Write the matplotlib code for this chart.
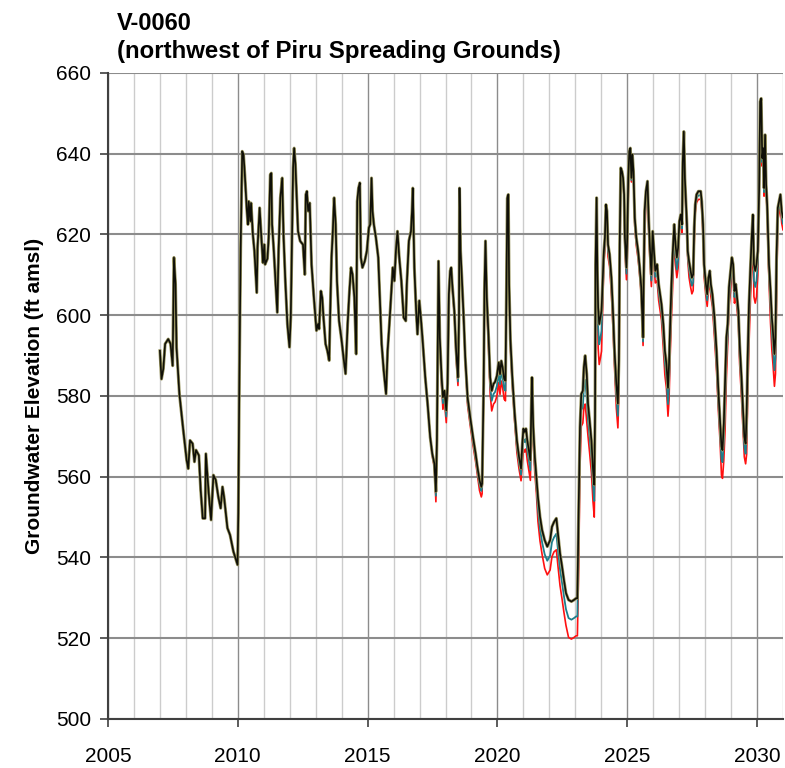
import numpy as np
import matplotlib
matplotlib.use("Agg")
import matplotlib.pyplot as plt
from matplotlib.ticker import MultipleLocator

# decimal year of each reading, black (highest) series head in ft amsl
years = [
    2007.00, 2007.06, 2007.13, 2007.20, 2007.32, 2007.41, 2007.49, 2007.54, 2007.60, 2007.64, 2007.75, 2007.90,
    2008.03, 2008.09, 2008.16, 2008.26, 2008.33, 2008.39, 2008.50, 2008.57, 2008.65, 2008.74, 2008.77, 2008.88, 2008.97,
    2009.06, 2009.15, 2009.25, 2009.34, 2009.41, 2009.47, 2009.60, 2009.70, 2009.83, 2009.99,
    2010.02, 2010.06, 2010.11, 2010.17, 2010.22, 2010.27, 2010.35, 2010.39, 2010.42, 2010.48, 2010.51, 2010.58, 2010.64, 2010.73, 2010.76, 2010.84, 2010.90, 2010.97,
    2011.02, 2011.05, 2011.14, 2011.19, 2011.25, 2011.29, 2011.32, 2011.38, 2011.46, 2011.52, 2011.57, 2011.64, 2011.71, 2011.76, 2011.83, 2011.91, 2011.99,
    2012.04, 2012.09, 2012.13, 2012.17, 2012.22, 2012.27, 2012.32, 2012.40, 2012.51, 2012.58, 2012.62, 2012.66, 2012.71, 2012.77, 2012.84, 2012.93,
    2013.03, 2013.09, 2013.13, 2013.20, 2013.25, 2013.30, 2013.38, 2013.45, 2013.52, 2013.56, 2013.61, 2013.66, 2013.71, 2013.77, 2013.82, 2013.90,
    2014.00, 2014.07, 2014.15, 2014.23, 2014.30, 2014.36, 2014.42, 2014.49, 2014.56, 2014.60, 2014.65, 2014.70, 2014.74, 2014.80, 2014.89, 2014.97,
    2015.05, 2015.10, 2015.15, 2015.19, 2015.24, 2015.32, 2015.41, 2015.47, 2015.54, 2015.62, 2015.71, 2015.77, 2015.83, 2015.90, 2015.97,
    2016.03, 2016.09, 2016.15, 2016.22, 2016.30, 2016.39, 2016.47, 2016.51, 2016.59, 2016.67, 2016.71, 2016.74, 2016.80, 2016.87, 2016.92, 2016.99,
]
heads_early = [
    591.2, 584.2, 586.7, 592.9, 594.1, 592.9, 587.5, 614.3, 607.7, 592.0, 580.5, 571.5,
    564.1, 562.0, 569.0, 568.2, 563.7, 566.6, 565.3, 556.7, 549.7, 549.7, 565.7, 555.8, 549.3,
    560.4, 559.2, 555.0, 552.2, 557.5, 555.0, 547.3, 545.6, 541.5, 538.2,
    551.0, 584.7, 616.7, 640.6, 639.8, 634.8, 625.8, 622.5, 628.2, 623.3, 627.8, 620.0, 615.9, 605.6, 616.7, 626.6, 620.0, 613.0,
    617.5, 612.6, 614.0, 619.2, 634.8, 635.2, 622.5, 616.7, 607.7, 600.7, 615.9, 629.1, 634.0, 620.0, 608.5, 597.8, 592.1,
    599.5, 620.8, 636.5, 641.4, 637.3, 629.1, 620.8, 618.4, 617.5, 610.1, 629.9, 630.7, 625.8, 627.8, 612.6, 604.4,
    596.2, 597.8, 596.6, 606.0, 604.4, 599.5, 592.9, 591.2, 588.8, 601.1, 614.3, 620.8, 629.1, 622.5, 608.5, 598.6,
    593.7, 589.6, 585.5, 597.8, 606.0, 611.8, 610.1, 604.4, 590.4, 628.2, 631.5, 632.8, 614.3, 611.8, 613.4, 615.9,
    621.7, 622.5, 634.0, 625.8, 622.5, 619.2, 614.3, 604.4, 592.9, 586.3, 580.5, 591.2, 597.0, 604.4, 611.8,
    608.5, 615.9, 620.8, 614.2, 608.5, 599.4, 598.6, 607.7, 618.4, 620.8, 625.8, 631.5, 611.8, 601.1, 595.3, 603.6,
]

# from 2017 the scenarios split: black head plus how far teal and red sit below it
years_late = [
    2017.05, 2017.12, 2017.22, 2017.31, 2017.41, 2017.49, 2017.57, 2017.63, 2017.67, 2017.71, 2017.73, 2017.78, 2017.85, 2017.90, 2017.96,
    2018.03, 2018.08, 2018.13, 2018.18, 2018.22, 2018.26, 2018.34, 2018.41, 2018.48, 2018.52, 2018.54, 2018.58, 2018.63, 2018.70, 2018.76, 2018.85, 2018.95,
    2019.06, 2019.16, 2019.23, 2019.31, 2019.38, 2019.41, 2019.47, 2019.50, 2019.54, 2019.59, 2019.66, 2019.72, 2019.78, 2019.85, 2019.91, 2019.98,
    2020.05, 2020.10, 2020.15, 2020.20, 2020.26, 2020.31, 2020.35, 2020.38, 2020.42, 2020.45, 2020.50, 2020.57, 2020.66, 2020.75, 2020.83, 2020.91, 2020.96,
    2021.00, 2021.05, 2021.10, 2021.15, 2021.21, 2021.27, 2021.31, 2021.33, 2021.38, 2021.44, 2021.50, 2021.56, 2021.64, 2021.72, 2021.82, 2021.92,
    2022.03, 2022.10, 2022.18, 2022.27, 2022.33, 2022.41, 2022.49, 2022.56, 2022.64, 2022.74, 2022.85, 2022.95,
    2023.03, 2023.08, 2023.13, 2023.18, 2023.23, 2023.29, 2023.33, 2023.38, 2023.44, 2023.49, 2023.55, 2023.62, 2023.68, 2023.73, 2023.76, 2023.78, 2023.82, 2023.85, 2023.88, 2023.92, 2023.97,
    2024.01, 2024.06, 2024.10, 2024.14, 2024.18, 2024.22, 2024.26, 2024.32, 2024.39, 2024.45, 2024.51, 2024.58, 2024.64, 2024.68, 2024.71, 2024.75, 2024.80, 2024.84, 2024.88, 2024.91, 2024.97,
    2025.00, 2025.04, 2025.08, 2025.12, 2025.16, 2025.20, 2025.24, 2025.29, 2025.35, 2025.42, 2025.48, 2025.54, 2025.61, 2025.63, 2025.67, 2025.72, 2025.78, 2025.83, 2025.88, 2025.93, 2025.98,
    2026.03, 2026.08, 2026.15, 2026.21, 2026.32, 2026.39, 2026.45, 2026.51, 2026.57, 2026.61, 2026.65, 2026.70, 2026.75, 2026.81, 2026.86, 2026.91, 2026.96,
    2027.01, 2027.06, 2027.11, 2027.14, 2027.18, 2027.22, 2027.26, 2027.30, 2027.33, 2027.38, 2027.44, 2027.49, 2027.54, 2027.58, 2027.62, 2027.67, 2027.74, 2027.83, 2027.87, 2027.92, 2027.96,
    2028.03, 2028.08, 2028.13, 2028.18, 2028.22, 2028.28, 2028.36, 2028.44, 2028.51, 2028.58, 2028.63, 2028.67, 2028.72, 2028.77, 2028.82, 2028.87, 2028.92, 2028.98,
    2029.03, 2029.08, 2029.13, 2029.18, 2029.23, 2029.28, 2029.33, 2029.40, 2029.46, 2029.51, 2029.56, 2029.60, 2029.64, 2029.69, 2029.75, 2029.80, 2029.84, 2029.88, 2029.93, 2029.98,
    2030.03, 2030.08, 2030.12, 2030.16, 2030.20, 2030.24, 2030.27, 2030.31, 2030.35, 2030.39, 2030.43, 2030.46, 2030.52, 2030.57, 2030.62, 2030.67, 2030.71, 2030.75, 2030.80, 2030.85, 2030.90, 2030.95,
    2031.00, 2031.05,
]
heads_late = [
    599.4, 593.7, 584.6, 578.1, 569.8, 565.7, 563.3, 556.3, 569.0, 599.4, 613.4, 594.5, 584.6, 579.7, 581.3,
    576.4, 583.0, 605.2, 611.0, 611.8, 607.7, 601.1, 591.2, 584.6, 599.4, 631.5, 615.9, 609.3, 599.4, 589.6, 579.7, 574.8,
    569.8, 565.7, 562.4, 559.1, 557.5, 558.3, 583.0, 606.0, 618.4, 604.4, 594.5, 584.6, 581.3, 583.0, 583.5, 585.0,
    588.3, 585.4, 588.7, 587.1, 584.2, 583.8, 607.7, 629.0, 629.9, 607.7, 594.0, 585.0, 576.0, 569.0, 565.0, 562.0, 568.2,
    571.9, 571.1, 571.9, 569.0, 566.5, 564.1, 578.9, 584.6, 572.3, 564.9, 560.0, 555.0, 550.1, 546.8, 544.3, 542.7,
    544.3, 547.6, 548.8, 549.7, 546.0, 541.1, 537.7, 534.5, 531.2, 529.5, 529.1, 529.5,
    529.9, 529.9, 552.5, 572.3, 580.5, 581.3, 587.1, 590.0, 585.5, 578.0, 574.0, 569.0, 562.0, 558.0, 575.0, 612.6, 629.1, 611.0, 601.9, 597.8, 599.5,
    601.1, 609.3, 615.9, 619.2, 627.4, 625.8, 617.5, 615.1, 609.3, 601.1, 591.2, 583.0, 578.1, 588.8, 617.5, 636.5, 635.6, 634.0, 629.9, 619.2, 611.8,
    619.2, 634.0, 640.6, 641.4, 634.0, 639.8, 635.6, 624.1, 619.2, 615.9, 611.8, 606.9, 594.5, 606.9, 625.8, 630.7, 633.2, 623.3, 615.9, 610.1, 620.8,
    615.9, 611.0, 612.6, 607.7, 602.7, 597.8, 591.2, 587.9, 582.0, 587.9, 597.0, 606.9, 615.1, 622.5, 617.5, 614.3, 616.7,
    623.3, 624.9, 622.5, 638.1, 645.5, 634.0, 628.0, 622.5, 615.9, 613.4, 611.0, 609.3, 610.1, 621.7, 627.4, 629.9, 630.7, 630.7, 628.2, 622.5, 612.6,
    607.7, 605.2, 609.3, 611.0, 607.7, 605.2, 599.5, 591.2, 581.4, 573.1, 567.4, 566.6, 573.1, 583.8, 594.5, 597.8, 606.9, 611.0,
    614.3, 612.6, 606.0, 607.7, 604.4, 601.1, 592.9, 584.7, 576.4, 569.9, 568.2, 575.6, 589.6, 602.7, 612.6, 620.0, 624.9, 612.6, 611.0, 612.6,
    615.9, 630.7, 652.9, 653.7, 638.9, 641.4, 631.5, 644.7, 632.4, 627.4, 618.4, 612.6, 606.0, 599.5, 595.3, 590.4, 594.5, 614.3, 626.6, 628.2, 629.9, 625.8,
    624.1, 624.9,
]
teal_drop = [
    0, 0, 0, 0, 0, 0, 0.5, 1, 1, 0.5, 0, 0.5, 1, 1.5, 1.5,
    1.5, 1, 0.5, 0.5, 0.5, 0.5, 0.5, 1, 1, 0.5, 0, 0.5, 0.5, 0.5, 0.5, 1, 1,
    1, 1, 1, 1, 1, 1, 1, 0.5, 0, 1, 1.5, 2, 2.5, 2.5, 2.5, 2.5,
    2.5, 2.5, 2.5, 2.5, 2.5, 2.5, 1, 0, 0, 1, 1, 1, 1, 1.5, 1.5, 1.5, 2.5,
    2.5, 2.5, 2.5, 2.5, 2.5, 2.5, 1, 1, 2, 2, 2, 3, 3, 3, 3.5, 3.5,
    3.8, 3.8, 3.8, 3.8, 4, 4, 4, 4, 4, 4.5, 4.5, 4.5,
    4.5, 4.5, 6, 5, 4, 4, 5, 6, 6, 4, 4, 4, 4, 4, 5, 3, 0.5, 1, 5, 5, 5,
    5, 3, 1.5, 1.5, 1.5, 1.5, 1.5, 1.5, 2, 2, 2, 3, 3, 4, 5, 0.5, 0.5, 0.5, 0.5, 1.5, 1.5,
    2.5, 2.5, 0.5, 0.5, 0.5, 0.5, 0.5, 1, 1, 1, 1, 1, 1, 3, 4, 1, 0.5, 1.5, 1.5, 1.5, 1.5,
    1.5, 1.5, 2, 2, 2, 3, 3, 3, 4, 5, 4, 4, 4, 2, 3, 3, 3,
    1, 1, 1, 0.5, 0.5, 0.5, 1, 1, 1, 2, 2, 2, 2, 2, 1, 1, 1, 1, 1, 1.5, 1.5,
    1.5, 1.5, 1.5, 1.5, 1.5, 1.5, 3, 3, 3, 3, 3, 3, 4, 6, 5, 3, 3, 3,
    1.5, 1.5, 1.5, 1.5, 1.5, 1.5, 2.5, 2.5, 2.5, 2.5, 2.5, 5, 5, 5, 4, 4, 2, 4, 4, 4,
    3, 1, 1, 1, 1, 1, 1, 1, 1, 1, 2, 2, 4, 4, 4, 4, 5, 6, 1.5, 1.5, 1.5, 1.5,
    1.5, 1.5,
]
red_drop = [
    0, 0, 0, 0, 0, 0.5, 1, 2.5, 2, 1, 0, 1, 2, 3, 3,
    3, 2, 1, 1, 1, 1, 1, 2, 2, 1, 0, 1, 1, 1, 1, 2, 2,
    2, 2, 2, 2.5, 2.5, 2.5, 2, 1, 0.5, 2, 3, 4, 5, 5, 5, 5,
    5, 5, 5, 5, 5, 5, 2, 0.5, 0.5, 2, 2, 2, 2, 3, 3, 3, 5,
    5, 5, 5, 5, 5, 5, 2, 2, 4, 4, 4, 6, 6, 6, 7, 7,
    7.4, 7.4, 7.4, 7.8, 8, 8, 8, 8, 8, 9.3, 9.3, 9.3,
    9.3, 9.3, 15, 10, 8, 8, 10, 12, 12, 8, 8, 8, 8, 8, 10, 6, 1, 2, 10, 10, 10,
    10, 6, 3, 3, 3, 3, 3, 3, 4, 4, 4, 6, 6, 8, 10, 1, 1, 1, 1, 3, 3,
    5, 5, 1, 1, 1, 1, 1, 2, 2, 2, 2, 2, 2, 6, 8, 2, 1, 3, 3, 3, 3,
    3, 3, 4, 4, 4, 6, 6, 6, 7, 9, 8, 8, 8, 3, 5, 5, 5,
    2, 2, 2, 1, 1, 1, 2, 2, 2, 4, 4, 4, 4, 4, 2, 2, 2, 2, 2, 3, 3,
    3, 3, 3, 3, 3, 3, 5, 5, 5, 5, 7, 7, 9, 12, 10, 5, 5, 5,
    3, 3, 3, 3, 3, 3, 5, 5, 5, 5, 5, 10, 10, 10, 8, 8, 4, 8, 8, 8,
    6, 2, 2, 2, 2, 2, 2, 2, 2, 2, 4, 4, 8, 8, 8, 8, 9, 11, 3, 3, 3, 3,
    3, 3,
]

assert len(years) == len(heads_early)
assert len(years_late) == len(heads_late) == len(teal_drop) == len(red_drop)

t = np.array(years + years_late)
black = np.array(heads_early + heads_late)
teal = np.concatenate([heads_early, np.array(heads_late) - np.array(teal_drop)])
red = np.concatenate([heads_early, np.array(heads_late) - np.array(red_drop)])

plt.rcParams['font.family'] = ['Liberation Sans', 'DejaVu Sans']

fig = plt.figure(figsize=(7.85, 7.68), dpi=100)
ax = fig.add_axes([108 / 785, 49 / 768, 675 / 785, 646 / 768])

ax.plot(t, red, color='#ff1010', lw=1.2, zorder=3)
ax.plot(t, teal, color='#1e7f8c', lw=1.3, zorder=4)
ax.plot(t, black, color='#9a9660', lw=2.2, zorder=5)
ax.plot(t, black, color='#101008', lw=1.2, zorder=6)

ax.set_xlim(2005, 2031)
ax.set_ylim(500, 660)
ax.xaxis.set_major_locator(MultipleLocator(5))
ax.xaxis.set_minor_locator(MultipleLocator(1))
ax.yaxis.set_major_locator(MultipleLocator(20))

ax.grid(which='minor', axis='x', color='#cccccc', lw=1.0, zorder=0)
ax.grid(which='major', axis='x', color='#8c8c8c', lw=1.0, zorder=1)
ax.grid(which='major', axis='y', color='#8c8c8c', lw=1.5, zorder=1)
ax.set_axisbelow(True)

for side in ('top', 'right'):
    ax.spines[side].set_visible(False)
for side in ('left', 'bottom'):
    ax.spines[side].set_color('#404040')
    ax.spines[side].set_linewidth(1.5)

ax.tick_params(axis='both', which='major', direction='out', length=6, width=1.2,
               color='#404040', labelsize=15, pad=6)
ax.tick_params(axis='x', which='minor', length=0)
ax.tick_params(axis='x', which='major', pad=14)

ax.set_ylabel('Groundwater Elevation (ft amsl)', fontsize=15, fontweight='bold', labelpad=9)

fig.text(117 / 785, 1 - 30 / 768, 'V-0060', fontsize=17, fontweight='bold', va='baseline', ha='left')
fig.text(117 / 785, 1 - 58 / 768, '(northwest of Piru Spreading Grounds)', fontsize=17.3,
         fontweight='bold', va='baseline', ha='left')

fig.savefig('out.png', dpi=100)
